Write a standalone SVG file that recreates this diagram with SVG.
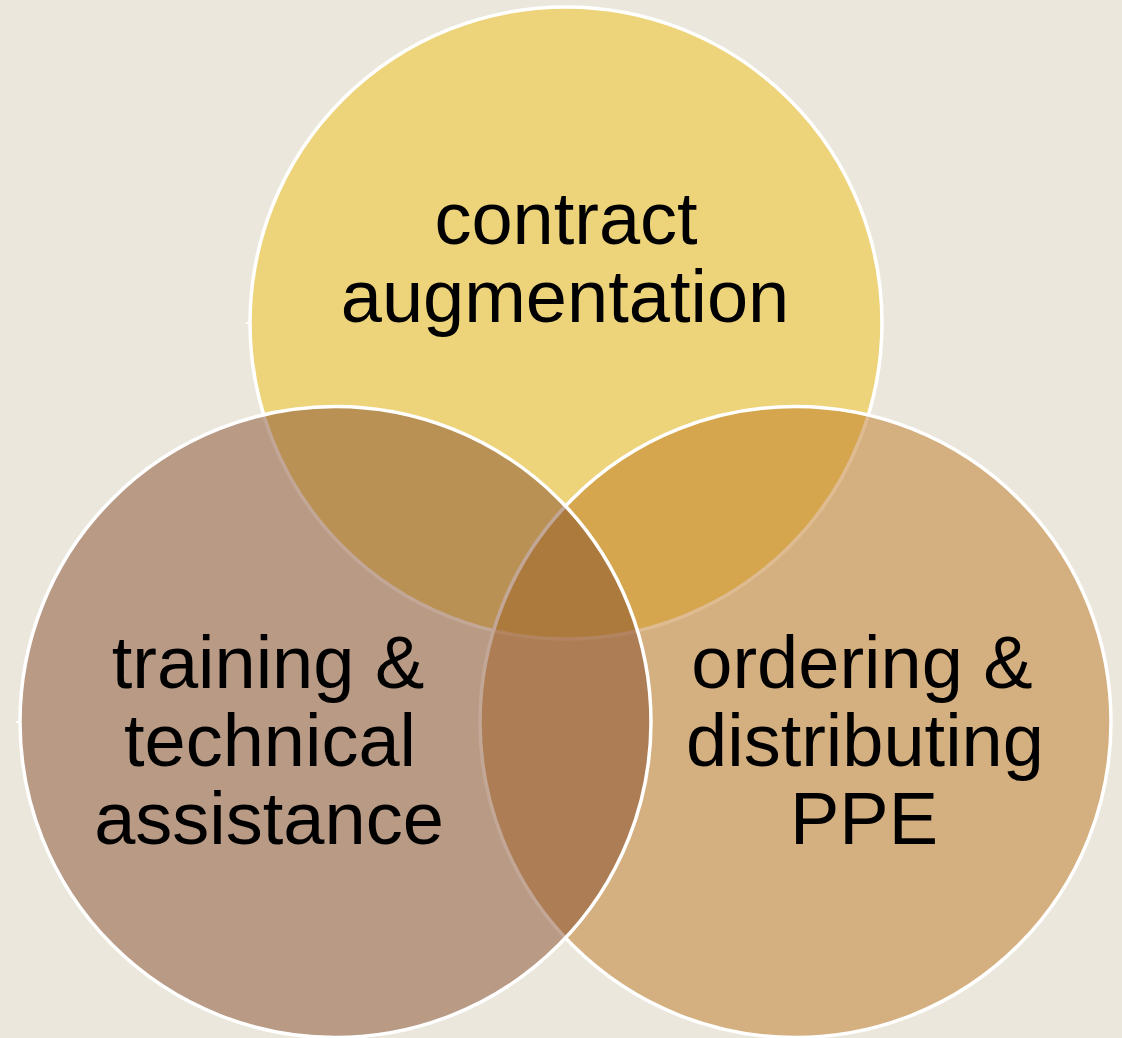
<svg xmlns="http://www.w3.org/2000/svg" width="1122" height="1038" viewBox="0 0 1122 1038">
<style>
.c{fill-opacity:0.5;stroke:#FFFFFF;stroke-width:3.5}
.t{font-family:"Liberation Sans",Arial,sans-serif;font-size:74px;fill:#000000;text-anchor:middle}
.tick{stroke:#FFFFFF;stroke-width:2}
</style>
<rect x="0" y="0" width="1122" height="1038" fill="#EBE7DC"/>
<g id="node-contract">
<circle class="c" cx="566" cy="323" r="316" fill="#EFC218"/>
<line class="tick" x1="246" y1="323" x2="251" y2="323"/>
</g>
<g id="node-ordering">
<circle class="c" cx="795.5" cy="722" r="315.5" fill="#BD7822"/>
</g>
<g id="node-training">
<circle class="c" cx="335.5" cy="722" r="315.5" fill="#854E2E"/>
<line class="tick" x1="16" y1="722" x2="21" y2="722"/>
</g>
<g id="labels">
<text class="t" x="566" y="244">contract</text>
<text class="t" x="565" y="322">augmentation</text>
<text class="t" x="268" y="688">training &amp;</text>
<text class="t" x="270" y="766">technical</text>
<text class="t" x="269" y="844">assistance</text>
<text class="t" x="862" y="688">ordering &amp;</text>
<text class="t" x="865" y="766">distributing</text>
<text class="t" x="864" y="844">PPE</text>
</g>
<g id="connectors"/>
</svg>
